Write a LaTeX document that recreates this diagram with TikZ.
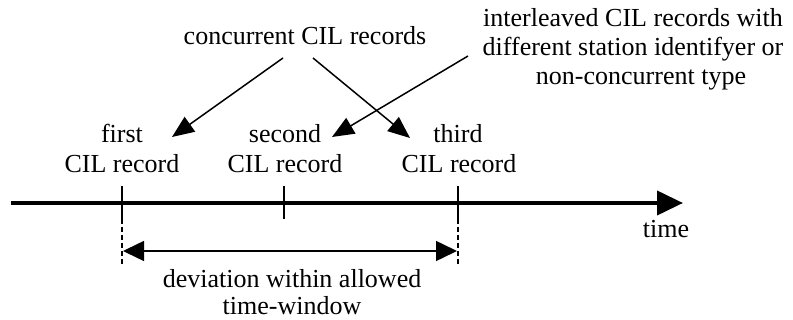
\documentclass[tikz,border=0pt]{standalone}
\usepackage{fontspec}
\setmainfont{Liberation Serif}
\usetikzlibrary{arrows.meta}
\begin{document}
\begin{tikzpicture}[x=1pt,y=-1pt,
  lbl/.style={anchor=base, inner sep=0pt, font=\fontsize{26}{29}\selectfont},
  ptr/.style={line width=1.5pt, -{Triangle[length=22pt,width=18pt]}},
  axisline/.style={line width=4pt, -{Triangle[length=26pt,width=24pt]}},
  tickline/.style={line width=1.3pt},
  guide/.style={line width=1.3pt, dash pattern=on 5pt off 3pt},
  span/.style={line width=1.5pt, {Triangle[length=21pt,width=20pt]}-{Triangle[length=21pt,width=20pt]}}]
\useasboundingbox (0,0) rectangle (793,320);
% labels
\node[lbl] (conc) at (305,45) {concurrent CIL records};
\node[lbl] (inter1) at (633,27) {interleaved CIL records with};
\node[lbl] (inter2) at (633,56) {different station identifyer or};
\node[lbl] (inter3) at (641,85) {non-concurrent type};
\node[lbl] (first) at (122,143) {first};
\node[lbl] (firstb) at (122,173) {CIL record};
\node[lbl] (second) at (285,143) {second};
\node[lbl] (secondb) at (285,173) {CIL record};
\node[lbl] (third) at (458,143) {third};
\node[lbl] (thirdb) at (459,173) {CIL record};
\node[lbl] (time) at (666,238) {time};
\node[lbl] (dev1) at (292,288) {deviation within allowed};
\node[lbl] (dev2) at (292,315) {time-window};
% connector end points
\coordinate (c1s) at (283,58);
\coordinate (c1e) at (172,137);
\coordinate (c2s) at (313,58);
\coordinate (c2e) at (410,138);
\coordinate (i1s) at (468,56);
\coordinate (i1e) at (332,137);
\draw[ptr] (c1s) -- (c1e);
\draw[ptr] (c2s) -- (c2e);
\draw[ptr] (i1s) -- (i1e);
% time axis
\coordinate (ax0) at (11,203);
\coordinate (ax1) at (683,203);
\draw[axisline] (ax0) -- (ax1);
% ticks
\coordinate (k1t) at (122,186); \coordinate (k1b) at (122,219); \coordinate (k1d) at (122,266);
\coordinate (k2t) at (284,186); \coordinate (k2b) at (284,219);
\coordinate (k3t) at (458,186); \coordinate (k3b) at (458,219); \coordinate (k3d) at (458,266);
\draw[tickline] (k1t) -- (k1b);
\draw[tickline] (k2t) -- (k2b);
\draw[tickline] (k3t) -- (k3b);
\draw[guide] (k1b) -- (k1d);
\draw[guide] (k3b) -- (k3d);
% window
\coordinate (w0) at (123,251);
\coordinate (w1) at (457,251);
\draw[span] (w0) -- (w1);
\end{tikzpicture}
\end{document}
